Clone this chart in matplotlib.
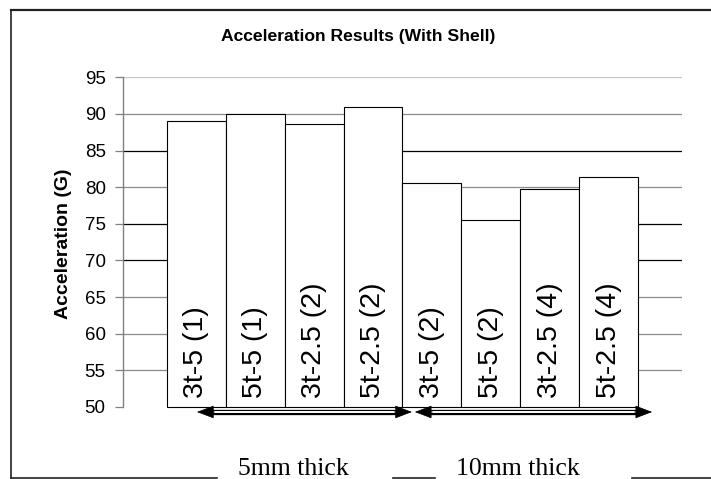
import matplotlib
matplotlib.use("Agg")
import matplotlib.pyplot as plt
from matplotlib.lines import Line2D

# ---- data ----
labels = ["3t-5 (1)", "5t-5 (1)", "3t-2.5 (2)", "5t-2.5 (2)",
          "3t-5 (2)", "5t-5 (2)", "3t-2.5 (4)", "5t-2.5 (4)"]
values = [89.0, 90.0, 88.6, 91.0, 80.6, 75.5, 79.8, 81.4]
yticks = [50, 55, 60, 65, 70, 75, 80, 85, 90, 95]
group_names = ["5mm thick", "10mm thick"]
group_spans = [(0.01, 3.66), (3.71, 7.74)]

W, H = 711, 479
fig = plt.figure(figsize=(W / 100, H / 100), dpi=100)
fig.patch.set_facecolor("white")

def fx(px):
    return px / W

def fy(py):
    return 1 - py / H

ax = fig.add_axes([fx(123), fy(407), fx(681.5) - fx(123), fy(77.3) - fy(407)])
ax.set_facecolor("white")

xs = list(range(len(values)))
bars = ax.bar(xs, [v - 50 for v in values], bottom=50, width=1.0, color="white",
              edgecolor="black", linewidth=0.8, zorder=3)
for b in bars:
    b.set_clip_on(False)

ax.set_ylim(50, 95)
ax.set_xlim(-1.247, 8.239)
ax.set_yticks(yticks)
ax.set_yticklabels([str(t) for t in yticks], fontsize=13.5, family="Liberation Sans")
ax.set_xticks([])

# gridlines (drawn manually with the reference's alternating tones)
grid_colors = {55: "#8a8a8a", 60: "#8a8a8a", 65: "#8a8a8a", 70: "#000000",
               75: "#000000", 80: "#8a8a8a", 85: "#000000", 90: "#8a8a8a",
               95: "#c8c8c8"}
for t in yticks[1:]:
    ax.axhline(t, color=grid_colors[t], lw=0.9, zorder=1)

for s in ["top", "right", "bottom"]:
    ax.spines[s].set_visible(False)
ax.spines["left"].set_color("#808080")
ax.spines["left"].set_linewidth(1.0)
ax.tick_params(axis="y", direction="out", length=6, width=0.9, color="#808080",
               pad=6.5, labelcolor="black")

# bar labels
for x, lab in zip(xs, labels):
    ax.text(x, 51.2, lab, rotation=90, ha="center", va="bottom",
            fontsize=20.5, family="Liberation Sans", zorder=4)

# double-line arrows
ya = 49.32
for (x0, x1) in group_spans:
    ax.plot([x0 + 0.17, x1 - 0.17], [ya, ya], color="black", lw=3.8,
            solid_capstyle="butt", clip_on=False, zorder=5)
    ax.plot([x0 + 0.2, x1 - 0.2], [ya, ya], color="white", lw=1.4,
            solid_capstyle="butt", clip_on=False, zorder=6)
    ax.annotate("", xy=(x0, ya), xytext=(x0 + 0.3, ya),
                arrowprops=dict(arrowstyle="-|>,head_length=1.1,head_width=0.42",
                                color="black", lw=0.5, shrinkA=0, shrinkB=0),
                annotation_clip=False, zorder=7)
    ax.annotate("", xy=(x1, ya), xytext=(x1 - 0.3, ya),
                arrowprops=dict(arrowstyle="-|>,head_length=1.1,head_width=0.42",
                                color="black", lw=0.5, shrinkA=0, shrinkB=0),
                annotation_clip=False, zorder=7)

# title and y label
fig.text(fx(358), fy(36), "Acceleration Results (With Shell)", ha="center",
         va="center", fontsize=12.6, fontweight="bold", family="Liberation Sans")
fig.text(fx(63), fy(244), "Acceleration (G)", ha="center", va="center",
         rotation=90, fontsize=14, fontweight="bold", family="Liberation Sans")

# group labels
fig.text(fx(293), fy(475), group_names[0], ha="center", va="baseline",
         fontsize=18.5, family="Liberation Serif")
fig.text(fx(517.7), fy(475), group_names[1], ha="center", va="baseline",
         fontsize=18.5, family="Liberation Serif")

# outer frame
frame_col = "#222222"
fig.add_artist(Line2D([fx(11), fx(711)], [fy(10), fy(10)], color=frame_col, lw=1.6))
fig.add_artist(Line2D([fx(11), fx(11)], [fy(10), fy(477.5)], color=frame_col, lw=1.2))
for (a, b) in [(11, 217), (392.7, 435), (631.7, 711)]:
    fig.add_artist(Line2D([fx(a), fx(b)], [fy(477.5), fy(477.5)],
                          color=frame_col, lw=1.2))

fig.savefig("out.png", dpi=100, facecolor="white")
